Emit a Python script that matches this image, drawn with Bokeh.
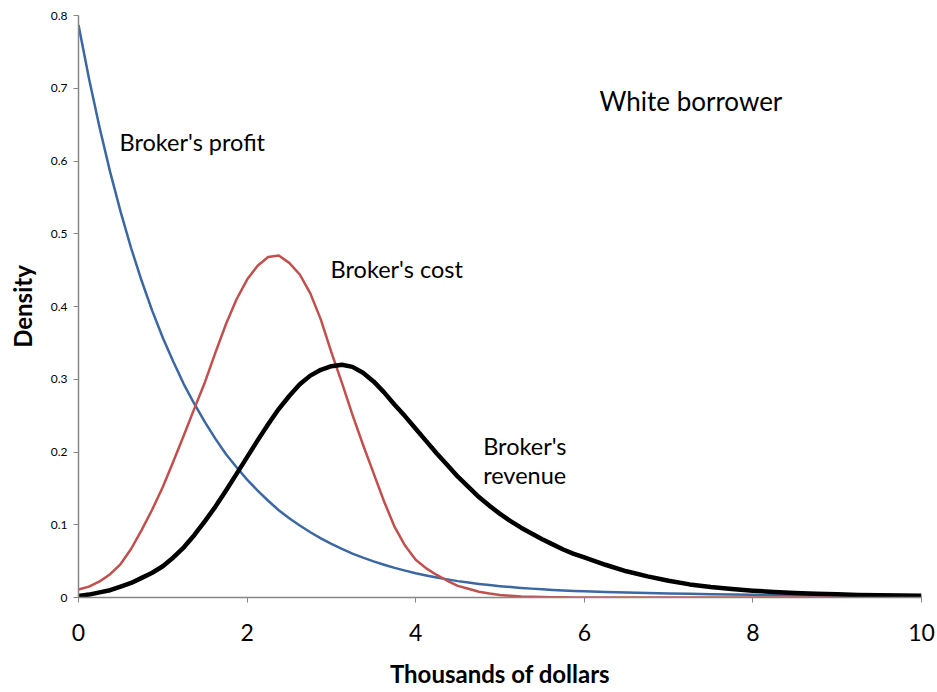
from bokeh.plotting import figure
from bokeh.models import Range1d, FixedTicker, ColumnDataSource
from bokeh.core.properties import value
from bokeh.embed import file_html
from bokeh.resources import INLINE

# Thousands of dollars (x values)
x_vals = [0, 0.125, 0.25, 0.375, 0.5, 0.625, 0.75, 0.875, 1.0, 1.125, 1.25, 1.375, 1.5, 1.625,
          1.75, 1.875, 2.0, 2.125, 2.25, 2.375, 2.5, 2.625, 2.75, 2.875, 3.0, 3.125, 3.25, 3.375,
          3.5, 3.625, 3.75, 3.875, 4.0, 4.125, 4.25, 4.375, 4.5, 4.625, 4.75, 4.875, 5.0, 5.125,
          5.25, 5.375, 5.5, 5.625, 5.75, 5.875, 6.0,
          6.25, 6.5, 6.75, 7.0, 7.25, 7.5, 7.75, 8.0, 8.25, 8.5, 8.75, 9.0, 9.25, 9.5, 9.75, 10.0]

profit = [0.787, 0.713, 0.646, 0.585, 0.530, 0.480, 0.435, 0.394, 0.357, 0.324, 0.293, 0.266,
          0.241, 0.218, 0.197, 0.179, 0.162, 0.147, 0.133, 0.120, 0.109, 0.099, 0.0897, 0.0813,
          0.0736, 0.0667, 0.0604, 0.0548, 0.0496, 0.0450, 0.0407, 0.0369, 0.0334, 0.0303, 0.0274,
          0.0249, 0.0225, 0.0205, 0.0187, 0.0171, 0.0156, 0.0143, 0.0132, 0.0122, 0.0112, 0.0104,
          0.0097, 0.0091, 0.0085,
          0.0076, 0.0068, 0.0061, 0.0055, 0.0050, 0.0045, 0.0041, 0.0037, 0.0034, 0.0031, 0.0028,
          0.0026, 0.0024, 0.0022, 0.0020, 0.0019]

cost = [0.011, 0.015, 0.022, 0.032, 0.046, 0.067, 0.093, 0.121, 0.152, 0.187, 0.223, 0.260,
        0.296, 0.337, 0.376, 0.410, 0.437, 0.456, 0.468, 0.470, 0.460, 0.444, 0.418, 0.382,
        0.337, 0.295, 0.251, 0.210, 0.171, 0.132, 0.097, 0.071, 0.052, 0.040, 0.031, 0.023,
        0.016, 0.012, 0.008, 0.0055, 0.0035, 0.0024, 0.0015, 0.0010, 0.0006, 0.0004, 0.0002,
        0.0001, 0.0001,
        0, 0, 0, 0, 0, 0, 0, 0, 0, 0, 0, 0, 0, 0, 0, 0]

revenue = [0.002, 0.004, 0.007, 0.010, 0.015, 0.020, 0.027, 0.034, 0.043, 0.055, 0.069, 0.086,
           0.105, 0.125, 0.147, 0.170, 0.193, 0.216, 0.238, 0.259, 0.277, 0.293, 0.305, 0.313,
           0.318, 0.320, 0.317, 0.309, 0.297, 0.282, 0.265, 0.249, 0.232, 0.215, 0.198, 0.182,
           0.166, 0.152, 0.138, 0.126, 0.115, 0.105, 0.096, 0.088, 0.080, 0.073, 0.066, 0.060,
           0.055,
           0.045, 0.036, 0.029, 0.023, 0.018, 0.0145, 0.0117, 0.0094, 0.0076, 0.0062, 0.0051,
           0.0043, 0.0036, 0.0031, 0.0027, 0.0024]

x_ticks = [0, 2, 4, 6, 8, 10]
y_ticks = [0, 0.1, 0.2, 0.3, 0.4, 0.5, 0.6, 0.7, 0.8]

label_text = ["Broker's profit", "Broker's cost", "Broker's", "revenue"]
label_x = [0.486, 2.99, 4.80, 4.80]
label_y = [0.626, 0.452, 0.2086, 0.169]
title_text = ["White borrower"]
title_x = [6.18]
title_y = [0.683]

FONT = "Lato"

p = figure(width=935, height=690, output_backend="svg", toolbar_location=None,
           x_range=Range1d(0, 10), y_range=Range1d(0, 0.8),
           min_border_left=78, min_border_right=14, min_border_top=15, min_border_bottom=92)
p.outline_line_color = None
p.grid.visible = False
p.background_fill_color = "white"

src = ColumnDataSource(dict(x=x_vals, profit=profit, cost=cost, revenue=revenue))
p.line("x", "profit", source=src, line_color="#3B68A2", line_width=2.5, line_join="round")
p.line("x", "cost", source=src, line_color="#C0504D", line_width=2.5, line_join="round")
p.line("x", "revenue", source=src, line_color="black", line_width=4.5, line_join="round")

p.text(x=label_x, y=label_y, text=label_text, text_font=value(FONT), text_font_size="23.5px",
       text_align="left", text_baseline="middle", text_color="black")
p.text(x=title_x, y=title_y, text=title_text, text_font=value(FONT), text_font_size="26px",
       text_align="left", text_baseline="middle", text_color="black")

for ax in (p.xaxis[0], p.yaxis[0]):
    ax.axis_line_color = "#868686"
    ax.axis_line_width = 1.5
    ax.major_tick_line_color = "#868686"
    ax.major_tick_out = 5
    ax.major_tick_in = 0
    ax.minor_tick_line_color = None
    ax.major_label_text_color = "black"
    ax.major_label_text_font = FONT
    ax.axis_label_text_font = FONT
    ax.axis_label_text_font_style = "bold"
    ax.axis_label_text_color = "black"
    ax.axis_label_text_font_size = "24px"

p.xaxis.ticker = FixedTicker(ticks=x_ticks)
p.xaxis.major_label_text_font_size = "23px"
p.xaxis.major_label_standoff = 21
p.xaxis.axis_label = "Thousands of dollars"
p.xaxis.axis_label_standoff = 15

p.yaxis.ticker = FixedTicker(ticks=y_ticks)
p.yaxis.major_label_text_font_size = "12px"
p.yaxis.major_label_standoff = 6
p.yaxis.major_label_overrides = {0: "0", 0.1: "0.1", 0.2: "0.2", 0.3: "0.3", 0.4: "0.4",
                                 0.5: "0.5", 0.6: "0.6", 0.7: "0.7", 0.8: "0.8"}
p.yaxis.axis_label = "Density"
p.yaxis.axis_label_standoff = 11

open("out.html", "w").write(file_html(p, INLINE))
